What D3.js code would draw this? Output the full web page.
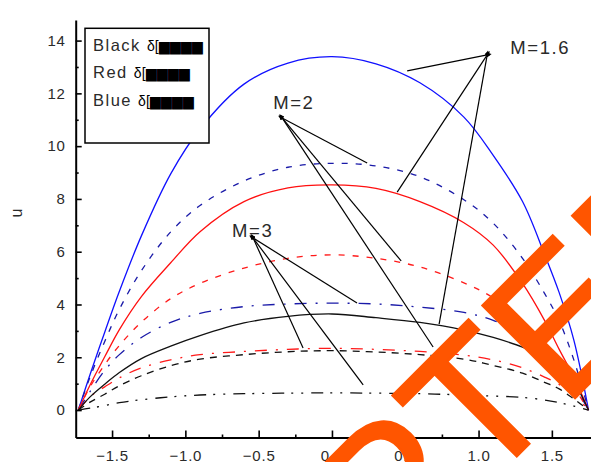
<!DOCTYPE html>
<html>
<head>
<meta charset="utf-8">
<script src="https://cdn.jsdelivr.net/npm/d3@7"></script>
<style>
  body { margin: 0; background: #fff; }
  svg { display: block; }
  text { font-family: "Liberation Sans", Arial, sans-serif; fill: #2a2a2a; }
</style>
</head>
<body>
<div id="chart"></div>
<script>
"use strict";

// x positions (channel width coordinate)
var xs = [-1.73, -1.65, -1.55, -1.45, -1.3, -1.1, -0.9, -0.6, -0.3, 0, 0.3, 0.6, 0.9, 1.1, 1.3, 1.45, 1.55, 1.65, 1.75];

// velocity profiles u, one per colour / M value
var blueM16  = [0, 1.35, 2.95, 4.5, 6.6, 8.95, 10.65, 12.35, 13.15, 13.39, 13.12, 12.4, 11.1, 9.65, 7.9, 5.9, 4.45, 2.65, 0];
var blueM2   = [0, 1.25, 2.6, 3.82, 5.28, 6.75, 7.75, 8.68, 9.2, 9.35, 9.25, 8.84, 7.97, 7.08, 5.75, 4.42, 3.38, 1.9, 0];
var blueM3   = [0, 0.7, 1.5, 2.1, 2.75, 3.32, 3.66, 3.92, 4.02, 4.05, 4.02, 3.9, 3.7, 3.4, 2.85, 2.25, 1.7, 0.95, 0];
var redM16   = [0, 0.95, 2.02, 3.05, 4.3, 5.58, 6.76, 7.9, 8.42, 8.53, 8.4, 7.9, 7.1, 6.25, 4.8, 3.4, 2.3, 1.25, 0];
var redM2    = [0, 0.88, 1.72, 2.45, 3.33, 4.22, 4.8, 5.38, 5.75, 5.88, 5.75, 5.42, 4.82, 4.25, 3.3, 2.3, 1.55, 0.85, 0];
var redM3    = [0, 0.5, 0.88, 1.22, 1.6, 1.9, 2.1, 2.22, 2.3, 2.34, 2.3, 2.22, 2.08, 1.9, 1.6, 1.25, 0.97, 0.58, 0];
var blackM16 = [0, 0.5, 0.98, 1.42, 1.95, 2.42, 2.82, 3.3, 3.55, 3.64, 3.5, 3.32, 3.03, 2.75, 2.38, 1.95, 1.6, 1.05, 0];
var blackM2  = [0, 0.3, 0.6, 0.92, 1.3, 1.68, 1.93, 2.1, 2.21, 2.25, 2.2, 2.1, 1.93, 1.69, 1.4, 1.05, 0.8, 0.42, 0];
var blackM3  = [0, 0.07, 0.17, 0.28, 0.39, 0.5, 0.57, 0.62, 0.64, 0.65, 0.64, 0.62, 0.57, 0.53, 0.48, 0.38, 0.28, 0.15, 0];

// tick values
var xMajor = [-1.5, -1.0, -0.5, 0.0, 0.5, 1.0, 1.5];
var xMinor = [-1.25, -0.75, -0.25, 0.25, 0.75, 1.25];
var yMajor = [0, 2, 4, 6, 8, 10, 12, 14];
var yMinor = [1, 3, 5, 7, 9, 11, 13];

// legend and annotations
var legendNames = ["Black", "Red", "Blue"];
var legendGlyphs = ["\u03b4[\u2586\u2586\u2586\u2586", "\u03b4[\u2586\u2586\u2586\u2586", "\u03b4[\u2586\u2586\u2586\u2586"];
var annoLabels = ["M=1.6", "M=2", "M=3"];
var annoLabelPos = [[1.216, 13.5], [-0.401, 11.4], [-0.681, 6.57]];
var annoFrom = [[1.059, 13.46], [-0.34, 11.07], [-0.538, 6.52]];
var annoTo = [
  [[0.513, 12.85], [0.445, 8.26], [0.731, 3.26]],
  [[0.24, 9.36], [0.472, 5.65], [0.69, 2.39]],
  [[0.171, 4.06], [-0.197, 2.35], [0.213, 0.95]]
];

var W = 591, H = 462;

var svg = d3.select("#chart").append("svg")
    .attr("width", W)
    .attr("height", H);

// scales, picked so the axes land where they are in the picture
var x = d3.scaleLinear().domain([-1.748, 1.767]).range([75.7, 591]);
var y = d3.scaleLinear().domain([-1.04, 14.78]).range([437.5, 20]);

// arrow head used by the annotation lines
svg.append("defs").append("marker")
    .attr("id", "head")
    .attr("viewBox", "0 0 10 10")
    .attr("refX", 1).attr("refY", 5)
    .attr("markerWidth", 5).attr("markerHeight", 5)
    .attr("markerUnits", "userSpaceOnUse")
    .attr("orient", "auto-start-reverse")
  .append("path")
    .attr("d", "M0,0L10,5L0,10z")
    .attr("fill", "#000");

// the nine profiles
var series = [
  {data: blueM16, color: "#1010ff", dash: null},
  {data: blueM2, color: "#1a1aa8", dash: "6,8"},
  {data: blueM3, color: "#1a1aa8", dash: "12,9,2,9"},
  {data: redM16, color: "#ff1010", dash: null},
  {data: redM2, color: "#ff1a1a", dash: "6,8"},
  {data: redM3, color: "#ff1a1a", dash: "12,9,2,9"},
  {data: blackM16, color: "#111", dash: null},
  {data: blackM2, color: "#111", dash: "7,6"},
  {data: blackM3, color: "#111", dash: "12,7,2,8,2,8"}
];

var line = d3.line()
    .x(function(d) { return x(d[0]); })
    .y(function(d) { return y(d[1]); })
    .curve(d3.curveCatmullRom.alpha(0.5));

series.forEach(function(s) {
  var pts = xs.map(function(v, i) { return [v, s.data[i]]; });
  svg.append("path")
      .datum(pts)
      .attr("fill", "none")
      .attr("stroke", s.color)
      .attr("stroke-width", 1.3)
      .attr("stroke-dasharray", s.dash)
      .attr("d", line);
});

// annotation lines and labels
annoLabels.forEach(function(lab, i) {
  annoTo[i].forEach(function(t) {
    svg.append("line")
        .attr("x1", x(annoFrom[i][0])).attr("y1", y(annoFrom[i][1]))
        .attr("x2", x(t[0])).attr("y2", y(t[1]))
        .attr("stroke", "#000")
        .attr("stroke-width", 1.2)
        .attr("marker-start", "url(#head)");
  });
  svg.append("text")
      .attr("x", x(annoLabelPos[i][0]))
      .attr("y", y(annoLabelPos[i][1]))
      .attr("font-size", 18.5)
      .attr("letter-spacing", "1.6px")
      .text(lab);
});

// axes, ticks pointing inside
var axisY = svg.append("g").attr("transform", "translate(" + x.range()[0] + ",0)");
axisY.call(d3.axisLeft(y).tickValues(yMajor).tickSizeInner(-6).tickSizeOuter(0).tickPadding(10)
    .tickFormat(d3.format("d")));
axisY.append("g").call(d3.axisLeft(y).tickValues(yMinor).tickSizeInner(-3).tickSizeOuter(0).tickFormat(""))
    .select(".domain").remove();

var axisX = svg.append("g").attr("transform", "translate(0," + y.range()[0] + ")");
axisX.call(d3.axisBottom(x).tickValues(xMajor).tickSizeInner(-7).tickSizeOuter(0).tickPadding(14)
    .tickFormat(d3.format(".1f")));
axisX.append("g").call(d3.axisBottom(x).tickValues(xMinor).tickSizeInner(-3).tickSizeOuter(0).tickFormat(""))
    .select(".domain").remove();

svg.selectAll(".domain").attr("stroke", "#000").attr("stroke-width", 2);
svg.selectAll(".tick line").attr("stroke", "#000").attr("stroke-width", 1.6);
svg.selectAll(".tick text")
    .attr("font-family", "Liberation Sans, Arial, sans-serif")
    .attr("font-size", 15)
    .attr("letter-spacing", "0.8px");
axisX.selectAll(".tick text").attr("dy", "0.6em");

// y title
svg.append("text")
    .attr("transform", "translate(21.5,213) rotate(-90)")
    .attr("text-anchor", "middle")
    .attr("font-size", 16)
    .text("u");

// legend box
var legend = svg.append("g");
legend.append("rect")
    .attr("x", 85).attr("y", 28.3)
    .attr("width", 124).attr("height", 114.7)
    .attr("fill", "#fff")
    .attr("stroke", "#000")
    .attr("stroke-width", 1.5);
var legendBase = [50.5, 77.5, 106];
legendNames.forEach(function(n, i) {
  var t = legend.append("text")
      .attr("x", 93).attr("y", legendBase[i])
      .attr("font-size", 16.5)
      .attr("letter-spacing", "1.5px");
  t.append("tspan").text(n + " ");
  t.append("tspan")
      .attr("font-size", 14)
      .attr("letter-spacing", "0px")
      .style("fill", "#000")
      .text(legendGlyphs[i]);
});

// orange stamp across the lower right corner
var stamp = svg.append("g").attr("transform", "translate(523,450) rotate(-45)");
var st = stamp.append("text")
    .attr("font-size", 190)
    .style("fill", "#ff5500")
    .style("stroke", "#ff5500")
    .style("stroke-width", 2.5)
    .text("ACCEPTED");
var before = st.node().getSubStringLength(0, 5);
var tw = st.node().getSubStringLength(5, 1);
st.attr("x", -(before + tw / 2));
</script>
</body>
</html>
